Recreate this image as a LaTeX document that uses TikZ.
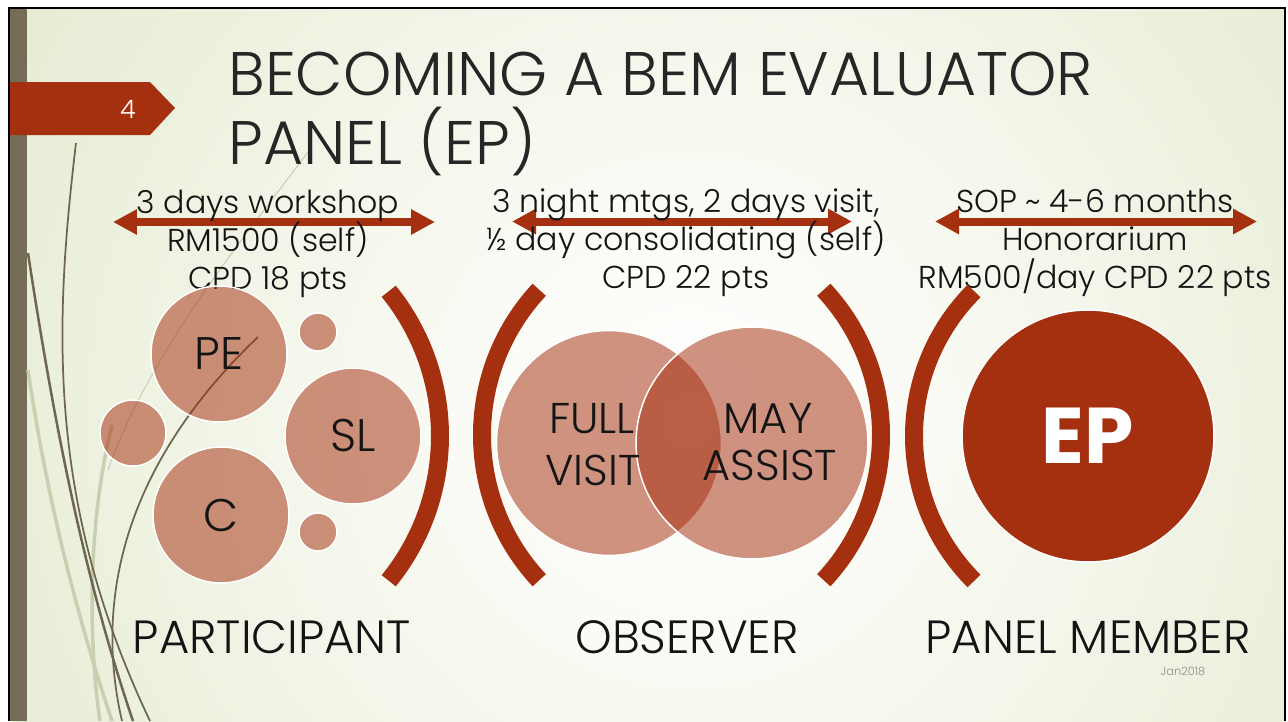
\documentclass[tikz,border=0pt]{standalone}
\usepackage{fontspec}
\setmainfont{Poppins}[UprightFont=* Light, BoldFont=* Bold]
\usepackage{xcolor}
\usepackage{tikz}
\usetikzlibrary{arrows.meta}
\usetikzlibrary{positioning}
\definecolor{brick}{HTML}{A5300F}
\definecolor{olive}{HTML}{756D55}
\definecolor{wisp}{HTML}{6E6650}
\definecolor{wispfaint}{HTML}{C9CFB1}
\definecolor{bgedge}{HTML}{DCE5C3}
\definecolor{bgcore}{HTML}{FAFBF5}
\definecolor{ink}{HTML}{141414}
\definecolor{titleink}{HTML}{262626}
\definecolor{stamp}{HTML}{8C8C8C}
\pgfdeclareradialshading{slideglow}{\pgfpoint{0bp}{0bp}}{color(0bp)=(white); color(8bp)=(bgcore); color(38bp)=(bgedge); color(50bp)=(bgedge)}
\tikzset{
    bubble/.style = {circle, draw=white, line width=0.03cm, fill=brick, fill opacity=0.52, text opacity=1, inner sep=0pt, text=ink, minimum size=#1, font=\fontsize{26}{30}\selectfont},
    epdisk/.style = {circle, draw=white, line width=0.03cm, fill=brick, inner sep=0pt, text=white, minimum size=#1, font=\fontsize{45}{50}\selectfont\bfseries},
    infotext/.style = {anchor=base, inner sep=0pt, text=ink, font=\fontsize{18}{22}\selectfont},
    venntext/.style = {anchor=base, inner sep=0pt, text=ink, font=\fontsize{24.5}{28}\selectfont},
    stagetext/.style = {anchor=base, inner sep=0pt, text=ink, font=\fontsize{26.5}{30}\selectfont},
    titletext/.style = {anchor=base west, inner sep=0pt, text=titleink, font=\fontsize{35}{42}\selectfont},
    twoway/.style = {{Triangle[length=0.48cm,width=0.48cm]}-{Triangle[length=0.48cm,width=0.48cm]}, line width=0.16cm, draw=brick},
    paren/.style = {draw=brick, line width=0.36cm},
    wispline/.style = {draw=wisp, line width=0.035cm},
    wispfaintline/.style = {draw=wispfaint, line width=0.07cm},
}
\begin{document}
\begin{tikzpicture}[x=0.02cm, y=-0.02cm]
\useasboundingbox (0,0) rectangle (1288,721);
\fill[white] (0,0) rectangle (1288,721);
% slide background
\begin{scope}
\clip (10,9) rectangle (1284,721);
\shade[shading=slideglow] (-10,-280) rectangle (1390,1120);
\end{scope}
\fill[olive] (10,8) rectangle (27,721);
\draw[black, line width=0.04cm] (9,721) -- (9,8) -- (1285,8) -- (1285,721);
%
\draw[wispfaintline] (28,370) .. controls (50,520) and (85,640) .. (112,721);
\draw[wispfaintline] (112,425) .. controls (88,520) and (88,640) .. (100,721);
\draw[wispfaintline, line width=0.02cm] (308,152) .. controls (250,230) and (150,350) .. (108,470);
\draw[wispline] (76,143) .. controls (55,320) and (45,500) .. (150,721);
\draw[wispline, line width=0.05cm] (28,253) .. controls (55,430) and (85,580) .. (133,721);
\draw[wispline] (258,337) .. controls (160,430) and (85,560) .. (122,721);
%
\fill[brick] (10,82) -- (150,82) -- (175,108) -- (150,135) -- (10,135) -- cycle;
\node[anchor=base, inner sep=0pt, text=white, font=\fontsize{14.5}{16}\selectfont] at (128,118) (pagenum) {4};
\node[titletext] at (228,95) (title1) {BECOMING A BEM EVALUATOR};
\node[titletext] at (228,164) (title2) {PANEL (EP)};
%
\coordinate (pl) at (113,222);
\coordinate (pr) at (435,222);
\coordinate (ol) at (512,221.5);
\coordinate (or) at (852,221.5);
\coordinate (ml) at (935,221.5);
\coordinate (mr) at (1257,221.5);
\draw[twoway] (pl) -- (pr);
\draw[twoway] (ol) -- (or);
\draw[twoway] (ml) -- (mr);
%
\node[infotext] at (268,213) (p1) {3 days workshop};
\node[infotext] at (268,251) (p2) {RM1500 (self)};
\node[infotext] at (268,289) (p3) {CPD 18 pts};
\node[infotext] at (686,212) (o1) {3 night mtgs, 2 days visit,};
\node[infotext] at (686,250) (o2) {½ day consolidating (self)};
\node[infotext] at (686,288) (o3) {CPD 22 pts};
\node[infotext] at (1095,212) (m1) {SOP \textasciitilde{} 4-6 months};
\node[infotext] at (1095,250) (m2) {Honorarium};
\node[infotext] at (1095,288) (m3) {RM500/day CPD 22 pts};
%
\draw[paren] (210,436) ++(-39:230) arc[start angle=-39, end angle=39, radius=230];
\draw[paren] (695,435) ++(137:213) arc[start angle=137, end angle=223, radius=213];
\draw[paren] (668,435) ++(-43:213) arc[start angle=-43, end angle=43, radius=213];
\draw[paren] (1119,436) ++(135:205) arc[start angle=135, end angle=225, radius=205];
%
\node[bubble=2.72cm] at (219,354) (pe) {PE};
\node[bubble=2.72cm] at (353,436) (sl) {SL};
\node[bubble=2.72cm] at (221,515) (c) {C};
\node[bubble=1.32cm] at (133,433) (dotw) {};
\node[bubble=0.76cm] at (318,332) (dotn) {};
\node[bubble=0.76cm] at (318,532) (dots) {};
%
\node[bubble=4.5cm] at (609,443) (full) {};
\node[bubble=4.64cm] at (752,443) (may) {};
\node[venntext] at (592,433) (fulla) {FULL};
\node[venntext] at (593,485) (fullb) {VISIT};
\node[venntext] at (768,433) (maya) {MAY};
\node[venntext] at (770,480) (mayb) {ASSIST};
%
\node[epdisk=5.04cm] at (1088,436) (ep) {EP};
%
\node[stagetext] at (272,653) (participant) {PARTICIPANT};
\node[stagetext] at (687,653) (observer) {OBSERVER};
\node[stagetext] at (1088,653) (member) {PANEL MEMBER};
\node[anchor=base, inner sep=0pt, text=stamp, font=\fontsize{6.5}{8}\selectfont] at (1183,675) (stampdate) {Jan2018};
\end{tikzpicture}
\end{document}
